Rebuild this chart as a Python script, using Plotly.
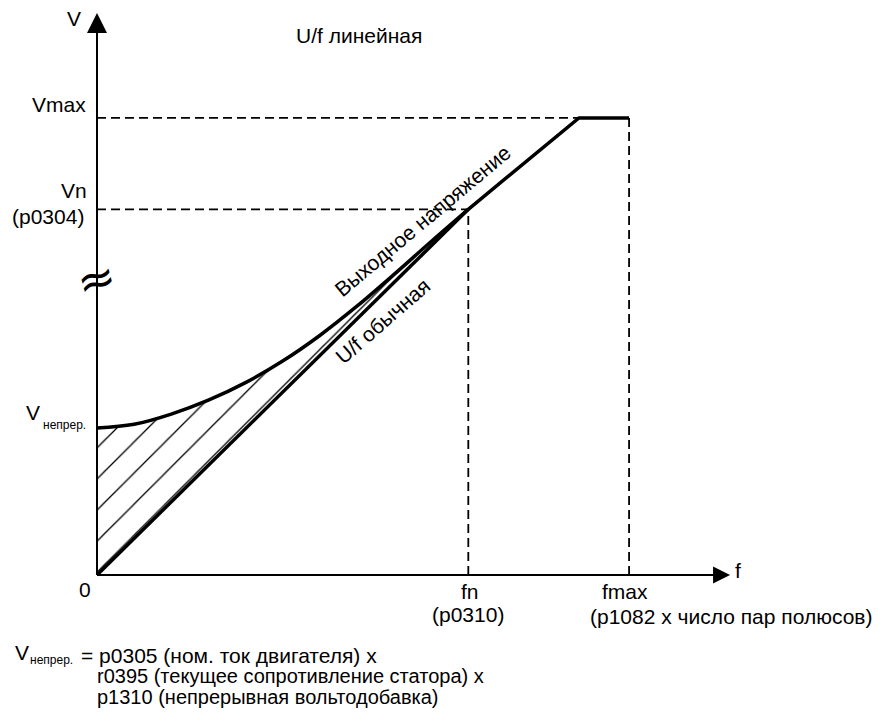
import plotly.graph_objects as go

# ───────────── Values (normalised: fn = 1, Vn = 1) ─────────────
F_N = 1.0
F_CORNER = 1.298      # output voltage reaches Vmax here
F_MAX = 1.433
F_AXIS_END = 1.705

V_N = 1.0
V_MAX = 1.250
V_BOOST = 0.402       # V непрер.
V_AXIS_END = 1.537

# output voltage curve between f = 0 and fn
CURVE_F = [0.0, 0.1, 0.2, 0.3, 0.4, 0.5, 0.6, 0.7, 0.8, 0.9, 1.0]
CURVE_V = [V_BOOST, 0.412, 0.440, 0.478, 0.526, 0.585, 0.655, 0.735, 0.822, 0.912, 1.0]

# linear U/f line
UF_F = [0.0, F_N]
UF_V = [0.0, V_N]

# straight part of output voltage above fn, then the Vmax plateau
TOP_F = [F_N, F_CORNER, F_MAX]
TOP_V = [V_N, V_MAX, V_MAX]

TITLE = "U/f линейная"
FOOTNOTE = [
    "= p0305 (ном. ток двигателя) x",
    "r0395 (текущее сопротивление статора) x",
    "p1310 (непрерывная вольтодобавка)",
]

# ───────────── Geometry ─────────────
W, H = 881, 724
OFF = 8                       # page body margin
FW, FH = W - OFF, H - OFF
X0_PX, Y0_PX = 97, 575        # origin in page pixels
PX_PER_F, PX_PER_V = 371.3, 365.7

x_range = [-(X0_PX - OFF) / PX_PER_F, (FW - (X0_PX - OFF)) / PX_PER_F]
y_range = [-(FH - (Y0_PX - OFF)) / PX_PER_V, (Y0_PX - OFF) / PX_PER_V]

FONT = dict(family="Arial, Liberation Sans, sans-serif", size=21, color="black")
BLACK = "black"

fig = go.Figure()

# hatched area between U/f line and output voltage curve
fig.add_trace(go.Scatter(x=UF_F, y=UF_V, mode="lines",
                         line=dict(width=0, color=BLACK), hoverinfo="skip"))
fig.add_trace(go.Scatter(
    x=CURVE_F, y=CURVE_V, mode="lines", line=dict(width=0, shape="spline", color=BLACK),
    fill="tonexty", fillcolor="white",
    fillpattern=dict(shape="/", size=22, solidity=0.06, fgcolor=BLACK,
                     bgcolor="white", fgopacity=1),
    hoverinfo="skip",
))

# dashed guide lines
DASH = dict(color=BLACK, width=1.8, dash="9px,5px")
for xs, ys in [
    ([0, F_CORNER], [V_MAX, V_MAX]),
    ([0, F_N], [V_N, V_N]),
    ([F_N, F_N], [0, V_N]),
    ([F_MAX, F_MAX], [0, V_MAX]),
]:
    fig.add_trace(go.Scatter(x=xs, y=ys, mode="lines", line=DASH, hoverinfo="skip"))

# axes with arrow heads
fig.add_trace(go.Scatter(x=[0, 0], y=[0, V_AXIS_END - 0.03], mode="lines",
                         line=dict(color=BLACK, width=2), hoverinfo="skip"))
fig.add_trace(go.Scatter(x=[0, F_AXIS_END - 0.03], y=[0, 0], mode="lines",
                         line=dict(color=BLACK, width=2), hoverinfo="skip"))
fig.add_trace(go.Scatter(x=[0], y=[V_AXIS_END], mode="markers",
                         marker=dict(symbol="arrow-up", size=20, color=BLACK), hoverinfo="skip"))
fig.add_trace(go.Scatter(x=[F_AXIS_END], y=[0], mode="markers",
                         marker=dict(symbol="arrow-right", size=17, color=BLACK), hoverinfo="skip"))

# main characteristic lines
THICK = dict(color=BLACK, width=3.5)
fig.add_trace(go.Scatter(x=UF_F, y=UF_V, mode="lines", line=THICK, hoverinfo="skip"))
fig.add_trace(go.Scatter(x=CURVE_F, y=CURVE_V, mode="lines",
                         line=dict(THICK, shape="spline"), hoverinfo="skip"))
fig.add_trace(go.Scatter(x=TOP_F, y=TOP_V, mode="lines", line=THICK, hoverinfo="skip"))


# ───────────── Labels ─────────────
def label(text, x, y, xanchor="center", size=21, angle=0, family=None):
    f = dict(FONT, size=size)
    if family:
        f["family"] = family
    fig.add_annotation(
        text=text, x=(x - OFF) / FW, y=1 - (y - OFF) / FH,
        xref="paper", yref="paper", xanchor=xanchor, yanchor="middle",
        showarrow=False, font=f, textangle=angle,
    )


label("V", 83, 18, xanchor="right")
label(TITLE, 294, 35, xanchor="left")
label("Vmax", 88, 105, xanchor="right")
label("Vn", 89, 190, xanchor="right")
label("(p0304)", 86, 216, xanchor="right")
label("≈", 96, 279, size=46, angle=-15, family="DejaVu Sans")
label("V", 42, 412, xanchor="right")
label("непрер.", 41, 425, xanchor="left", size=12)
label("0", 85, 589)
label("fn", 470, 591)
label("(p0310)", 468, 614)
label("fmax", 625, 591)
label("(p1082 x число пар полюсов)", 731, 616)
label("f", 738, 570)
label("Выходное напряжение", 423, 221, angle=-40)
label("U/f обычная", 382, 321, angle=-41)

label("V", 13, 652, xanchor="left")
label("непрер.", 28, 660, xanchor="left", size=12)
label(FOOTNOTE[0], 79, 655, xanchor="left", size=21)
label(FOOTNOTE[1], 95, 676, xanchor="left", size=20)
label(FOOTNOTE[2], 95, 697, xanchor="left", size=20)

fig.update_layout(
    width=FW, height=FH,
    margin=dict(l=0, r=0, t=0, b=0, pad=0),
    paper_bgcolor="white", plot_bgcolor="white",
    showlegend=False, hovermode=False,
    xaxis=dict(range=x_range, visible=False, fixedrange=True),
    yaxis=dict(range=y_range, visible=False, fixedrange=True),
)

fig.write_html("out.html")
